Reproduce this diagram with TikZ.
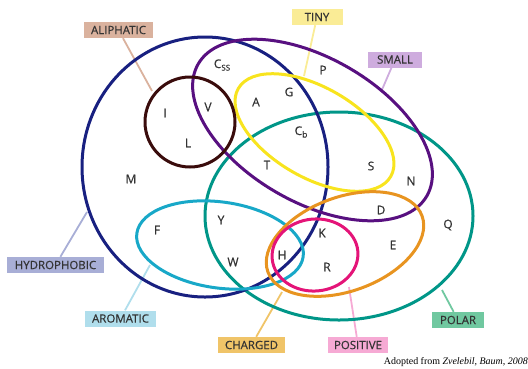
\documentclass[tikz,border=0pt]{standalone}
\usepackage{fontspec}
\setmainfont{Liberation Serif}
\newfontfamily\labelfont[FakeBold=0.6]{Open Sans}
\usepackage{xcolor}
\usetikzlibrary{calc}

% set colours
\definecolor{hydroline}{RGB}{24,32,128}
\definecolor{aliphline}{RGB}{58,12,12}
\definecolor{smallline}{RGB}{88,16,128}
\definecolor{tinyline}{RGB}{248,228,30}
\definecolor{polarline}{RGB}{0,150,136}
\definecolor{aromline}{RGB}{24,168,200}
\definecolor{chargeline}{RGB}{232,148,32}
\definecolor{posline}{RGB}{228,20,120}
% tag colours
\definecolor{aliphfill}{RGB}{218,178,158}
\definecolor{tinyfill}{RGB}{250,236,150}
\definecolor{smallfill}{RGB}{206,172,222}
\definecolor{hydrofill}{RGB}{168,174,214}
\definecolor{aromfill}{RGB}{176,222,236}
\definecolor{chargefill}{RGB}{240,196,104}
\definecolor{posfill}{RGB}{246,170,212}
\definecolor{polarfill}{RGB}{112,200,160}

\begin{document}
\begin{tikzpicture}[x=1bp,y=-1bp,
    set/.style={line width=3bp},
    tag/.style={font=\labelfont\fontsize{11.5}{12}\selectfont, text=black!80,
        inner sep=0pt, minimum height=16bp},
    amino/.style={font=\labelfont\fontsize{12}{12}\selectfont, text=black!80, inner sep=0pt},
    pointer/.style={line width=1.8bp}]
    \useasboundingbox (0,0) rectangle (528,368);

    % Tags
    \node[tag, fill=aliphfill, minimum width=69bp] (aliphatic) at (118.5,30) {ALIPHATIC};
    \node[tag, fill=tinyfill, minimum width=51bp] (tiny) at (317,17) {TINY};
    \node[tag, fill=smallfill, minimum width=54bp] (small) at (395,59.5) {SMALL};
    \node[tag, fill=hydrofill, minimum width=97bp] (hydrophobic) at (55.5,265) {HYDROPHOBIC};
    \node[tag, fill=aromfill, minimum width=71bp] (aromatic) at (120.5,318.5) {AROMATIC};
    \node[tag, fill=chargefill, minimum width=67bp] (charged) at (251.5,345) {CHARGED};
    \node[tag, fill=posfill, minimum width=60bp] (positive) at (358,345) {POSITIVE};
    \node[tag, fill=polarfill, minimum width=52bp] (polar) at (458,320) {POLAR};

    % Pointers
    \coordinate (aliphTip) at (152,91);
    \coordinate (tinyTip) at (304,76);
    \coordinate (smallTip) at (381,92);
    \coordinate (hydroTip) at (87,212);
    \coordinate (aromTip) at (150,265);
    \coordinate (chargeTip) at (282,292);
    \coordinate (posTip) at (349,287);
    \coordinate (polarTip) at (442,290);
    \draw[pointer, aliphfill] (aliphatic) -- (aliphTip);
    \draw[pointer, tinyfill] (tiny) -- (tinyTip);
    \draw[pointer, smallfill] (small) -- (smallTip);
    \draw[pointer, hydrofill] (hydrophobic) -- (hydroTip);
    \draw[pointer, aromfill] (aromatic) -- (aromTip);
    \draw[pointer, chargefill] (charged) -- (chargeTip);
    \draw[pointer, posfill] (positive) -- (posTip);
    \draw[pointer, polarfill] (polar) -- (polarTip);

    % Sets
    \draw[set, polarline] (339,216) ellipse [x radius=134, y radius=104];
    \draw[set, hydroline] (205,167) ellipse [x radius=123, y radius=130];
    \draw[set, smallline, rotate around={-30:(312.5,130)}] (312.5,130) ellipse [x radius=132, y radius=72];
    \draw[set, tinyline, rotate around={-30:(314.5,132.5)}] (314.5,132.5) ellipse [x radius=88, y radius=45];
    \draw[set, aliphline] (190,122) circle [radius=45];
    \draw[set, aromline, rotate around={-8:(220,245)}] (220,245) ellipse [x radius=84, y radius=43];
    \draw[set, chargeline, rotate around={20:(345,244)}] (345,244) ellipse [x radius=82, y radius=47];
    \draw[set, posline, rotate around={5:(315,255)}] (315,255) ellipse [x radius=43, y radius=36];

    % Amino acids
    \node[amino] (Css) at (222,65) {C\raisebox{-2.5bp}{\fontsize{8}{8}\selectfont SS}};
    \node[amino] (P) at (323,70) {P};
    \node[amino] (G) at (289,92) {G};
    \node[amino] (A) at (256,102) {A};
    \node[amino] (V) at (208,107) {V};
    \node[amino] (I) at (165,113) {I};
    \node[amino] (L) at (188,143) {L};
    \node[amino] (M) at (131,179) {M};
    \node[amino] (Cb) at (301,132) {C\raisebox{-2.5bp}{\fontsize{8.5}{8}\selectfont b}};
    \node[amino] (T) at (267,165) {T};
    \node[amino] (S) at (371,166) {S};
    \node[amino] (N) at (411,181) {N};
    \node[amino] (D) at (381,210) {D};
    \node[amino] (Q) at (448,225) {Q};
    \node[amino] (E) at (393,245) {E};
    \node[amino] (K) at (322,233) {K};
    \node[amino] (H) at (282,255) {H};
    \node[amino] (R) at (327,267) {R};
    \node[amino] (Y) at (221,220) {Y};
    \node[amino] (W) at (233,262) {W};
    \node[amino] (F) at (157,230) {F};

    % Source
    \node[anchor=base east, font=\fontsize{10}{10}\selectfont, inner sep=0pt] (source) at (528,364)
        {Adopted from \textit{Zvelebil, Baum, 2008}};
\end{tikzpicture}
\end{document}
